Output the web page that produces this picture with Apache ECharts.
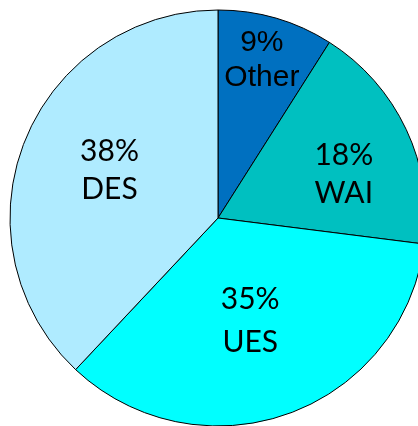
<!DOCTYPE html>
<html>
<head>
<meta charset="utf-8">
<script src="https://cdn.jsdelivr.net/npm/echarts@6/dist/echarts.min.js"></script>
<style>html,body{margin:0;padding:0;background:#fff}#c{width:418px;height:426px}</style>
</head>
<body>
<div id="c"></div>
<script>
const categories = ['Other', 'WAI', 'UES', 'DES'];
const values = [9, 18, 35, 38];
const colors = ['#0070C0', '#00C0C0', '#00FFFF', '#AFEBFF'];
const labelOffsets = [[14, -55], [29, 2], [-4, 2], [-9, -8]];
const labelFonts = ['"Liberation Sans", Arial, sans-serif', 'Lato', 'Lato', 'Lato'];
const lineHeights = [35, 38, 43, 38];

const chart = echarts.init(document.getElementById('c'));
chart.setOption({
  animation: false,
  series: [{
    type: 'pie',
    center: [218, 218],
    radius: 208,
    startAngle: 90,
    clockwise: true,
    itemStyle: { borderColor: '#000', borderWidth: 1 },
    emphasis: { disabled: true },
    data: categories.map((name, i) => ({
      name,
      value: values[i],
      itemStyle: { color: colors[i] },
      label: {
        show: true,
        position: 'inside',
        offset: labelOffsets[i],
        fontFamily: labelFonts[i],
        fontSize: 30,
        color: '#000',
        lineHeight: lineHeights[i],
        formatter: values[i] + '%\n' + name
      }
    }))
  }]
});
</script>
</body>
</html>
